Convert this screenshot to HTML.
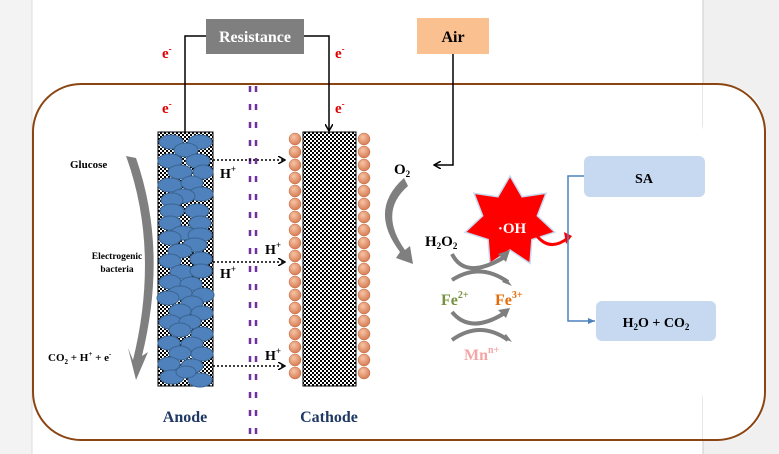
<!DOCTYPE html>
<html><head><meta charset="utf-8"><style>
html,body{margin:0;padding:0;background:#fff}
svg{display:block}
text{font-family:"Liberation Serif",serif;font-weight:bold}
</style></head><body>
<svg width="779" height="454" viewBox="0 0 779 454" xmlns="http://www.w3.org/2000/svg">
<defs>
<pattern id="chk" width="4" height="4" patternUnits="userSpaceOnUse">
<rect width="4" height="4" fill="#fff"/><rect width="2" height="2" fill="#000"/><rect x="2" y="2" width="2" height="2" fill="#000"/>
</pattern>
<radialGradient id="bead" cx="40%" cy="35%" r="60%"><stop offset="0" stop-color="#f6c4a6"/><stop offset="1" stop-color="#d9825a"/></radialGradient>
<marker id="ah" markerWidth="8" markerHeight="8" refX="7" refY="4" orient="auto" markerUnits="userSpaceOnUse"><path d="M0,0 L7,4 L0,8" fill="none" stroke="#000" stroke-width="1.5"/></marker>
<marker id="ab" markerWidth="8" markerHeight="8" refX="7" refY="4" orient="auto" markerUnits="userSpaceOnUse"><path d="M0,1 L7,4 L0,7z" fill="#4f81bd"/></marker>
</defs>
<rect x="0" y="0" width="32" height="454" fill="#f3f3f3"/>
<rect x="703" y="0" width="76" height="454" fill="#f0f0f0"/>
<line x1="32" y1="0" x2="32" y2="454" stroke="#ddd"/>
<line x1="703" y1="0" x2="703" y2="454" stroke="#ccc"/>
<rect x="33" y="84" width="670" height="356" rx="48" fill="#fff" stroke="none"/>
<path d="M703,85 L717,85 Q765,85 765,133 L765,391 Q765,439 717,439 L703,439" fill="#fff" stroke="none"/>
<rect x="33" y="84" width="732" height="356" rx="48" fill="none" stroke="#8b4513" stroke-width="2"/>

<polyline points="185,132 185,36 206,36" fill="none" stroke="#000" stroke-width="1.5"/>
<polyline points="304,36 329,36 329,131" fill="none" stroke="#000" stroke-width="1.5" marker-end="url(#ah)"/>
<rect x="206" y="19" width="98" height="35" fill="#7f7f7f"/>
<text x="255" y="42" font-size="16" fill="#fff" text-anchor="middle">Resistance</text>
<rect x="417" y="18" width="72" height="36" fill="#fac090"/>
<text x="453" y="42" font-size="16" fill="#000" text-anchor="middle">Air</text>
<polyline points="453,54 453,165 434,165" fill="none" stroke="#000" stroke-width="1.5" marker-end="url(#ah)"/>
<g fill="#e00000" font-size="15"><text x="162" y="58">e<tspan font-size="9" dy="-6">-</tspan></text>
<text x="335" y="58">e<tspan font-size="9" dy="-6">-</tspan></text>
<text x="162" y="113">e<tspan font-size="9" dy="-6">-</tspan></text>
<text x="335" y="113">e<tspan font-size="9" dy="-6">-</tspan></text></g>

<rect x="158" y="132" width="55" height="254" fill="url(#chk)" stroke="#000"/>
<g fill="#4f81bd" stroke="#3a6591" stroke-width="1">
<ellipse cx="171" cy="142" rx="12" ry="7"/><ellipse cx="200" cy="142" rx="12" ry="7"/><ellipse cx="186" cy="150" rx="12" ry="7"/>
<ellipse cx="170" cy="161" rx="12" ry="7"/><ellipse cx="198" cy="161" rx="12" ry="7"/><ellipse cx="180" cy="172" rx="12" ry="7"/><ellipse cx="203" cy="172" rx="10" ry="7"/>
<ellipse cx="170" cy="185" rx="12" ry="7"/><ellipse cx="192" cy="183" rx="11" ry="7"/><ellipse cx="201" cy="194" rx="12" ry="7"/><ellipse cx="183" cy="196" rx="12" ry="7"/><ellipse cx="172" cy="200" rx="11" ry="7"/>
<ellipse cx="172" cy="211" rx="12" ry="7"/><ellipse cx="197" cy="211" rx="12" ry="7"/><ellipse cx="170" cy="223" rx="11" ry="7"/><ellipse cx="200" cy="223" rx="11" ry="7"/>
<ellipse cx="183" cy="233" rx="12" ry="7"/><ellipse cx="170" cy="238" rx="11" ry="7"/><ellipse cx="200" cy="235" rx="12" ry="7"/><ellipse cx="195" cy="245" rx="12" ry="7"/><ellipse cx="180" cy="251" rx="12" ry="7"/>
<ellipse cx="170" cy="261" rx="11" ry="7"/><ellipse cx="201" cy="259" rx="11" ry="7"/><ellipse cx="182" cy="272" rx="12" ry="7"/><ellipse cx="201" cy="271" rx="11" ry="7"/>
<ellipse cx="170" cy="282" rx="11" ry="7"/><ellipse cx="191" cy="284" rx="11" ry="7"/><ellipse cx="180" cy="293" rx="12" ry="7"/><ellipse cx="203" cy="295" rx="11" ry="7"/><ellipse cx="168" cy="298" rx="11" ry="7"/>
<ellipse cx="192" cy="303" rx="11" ry="7"/><ellipse cx="180" cy="311" rx="11" ry="7"/><ellipse cx="202" cy="313" rx="11" ry="7"/>
<ellipse cx="170" cy="322" rx="11" ry="7"/><ellipse cx="190" cy="322" rx="11" ry="7"/><ellipse cx="180" cy="330" rx="11" ry="7"/><ellipse cx="202" cy="334" rx="11" ry="7"/>
<ellipse cx="169" cy="343" rx="11" ry="7"/><ellipse cx="192" cy="344" rx="11" ry="7"/><ellipse cx="180" cy="353" rx="11" ry="7"/><ellipse cx="202" cy="354" rx="11" ry="7"/>
<ellipse cx="169" cy="364" rx="11" ry="7"/><ellipse cx="192" cy="366" rx="11" ry="7"/><ellipse cx="172" cy="377" rx="12" ry="7"/><ellipse cx="200" cy="380" rx="12" ry="7"/><ellipse cx="186" cy="372" rx="10" ry="6"/>
</g>

<g stroke="#7030a0" stroke-width="2.5" stroke-dasharray="6,12">
<line x1="250" y1="86" x2="250" y2="440"/><line x1="256" y1="86" x2="256" y2="440"/>
</g>

<rect x="303" y="132" width="53" height="254" fill="url(#chk)" stroke="#000"/>
<g fill="url(#bead)" stroke="#c46a40" stroke-width="0.5">
<circle cx="295" cy="139" r="6"/><circle cx="295" cy="152" r="6"/><circle cx="295" cy="165" r="6"/><circle cx="295" cy="178" r="6"/><circle cx="295" cy="191" r="6"/><circle cx="295" cy="204" r="6"/><circle cx="295" cy="217" r="6"/><circle cx="295" cy="230" r="6"/><circle cx="295" cy="243" r="6"/><circle cx="295" cy="256" r="6"/><circle cx="295" cy="269" r="6"/><circle cx="295" cy="282" r="6"/><circle cx="295" cy="295" r="6"/><circle cx="295" cy="308" r="6"/><circle cx="295" cy="321" r="6"/><circle cx="295" cy="334" r="6"/><circle cx="295" cy="347" r="6"/><circle cx="295" cy="360" r="6"/><circle cx="295" cy="373" r="6"/>
<circle cx="364" cy="139" r="6"/><circle cx="364" cy="152" r="6"/><circle cx="364" cy="165" r="6"/><circle cx="364" cy="178" r="6"/><circle cx="364" cy="191" r="6"/><circle cx="364" cy="204" r="6"/><circle cx="364" cy="217" r="6"/><circle cx="364" cy="230" r="6"/><circle cx="364" cy="243" r="6"/><circle cx="364" cy="256" r="6"/><circle cx="364" cy="269" r="6"/><circle cx="364" cy="282" r="6"/><circle cx="364" cy="295" r="6"/><circle cx="364" cy="308" r="6"/><circle cx="364" cy="321" r="6"/><circle cx="364" cy="334" r="6"/><circle cx="364" cy="347" r="6"/><circle cx="364" cy="360" r="6"/><circle cx="364" cy="373" r="6"/>
</g>

<g stroke="#000" stroke-width="1.5" stroke-dasharray="2,2" fill="none">
<line x1="213" y1="160" x2="285" y2="160" marker-end="url(#ah)"/>
<line x1="213" y1="262" x2="285" y2="262" marker-end="url(#ah)"/>
<line x1="213" y1="366" x2="285" y2="366" marker-end="url(#ah)"/>
</g>
<g font-size="14" fill="#000">
<text x="220" y="178">H<tspan font-size="9" dy="-6">+</tspan></text>
<text x="265" y="254">H<tspan font-size="9" dy="-6">+</tspan></text>
<text x="220" y="278">H<tspan font-size="9" dy="-6">+</tspan></text>
<text x="265" y="360">H<tspan font-size="9" dy="-6">+</tspan></text>
</g>

<path d="M126,156 Q160,250 133,360 L128,348 L136,380 L148,352 L142,356 Q168,250 136,158 Z" fill="#7f7f7f"/>
<text x="70" y="168" font-size="11" fill="#000">Glucose</text>
<text x="117" y="259" font-size="9.5" text-anchor="middle">Electrogenic</text>
<text x="117" y="272" font-size="9.5" text-anchor="middle">bacteria</text>
<text x="48" y="361" font-size="11">CO<tspan font-size="7" dy="3">2</tspan><tspan dy="-3"> + H</tspan><tspan font-size="7" dy="-5">+</tspan><tspan dy="5"> + e</tspan><tspan font-size="7" dy="-5">-</tspan></text>

<text x="185" y="422" font-size="16" fill="#1f3864" text-anchor="middle">Anode</text>
<text x="329" y="422" font-size="16" fill="#1f3864" text-anchor="middle">Cathode</text>

<text x="394" y="174" font-size="15">O<tspan font-size="9" dy="3">2</tspan></text>
<path d="M404,178 Q368,210 400,252 L396,258 L413,264 L410,246 L405,250 Q378,212 408,186 Z" fill="#7f7f7f"/>
<text x="425" y="246" font-size="15">H<tspan font-size="9" dy="3">2</tspan><tspan dy="-3">O</tspan><tspan font-size="9" dy="3">2</tspan></text>
<polygon points="510,176 522.1,196.8 546,193.3 537.3,215.8 554.8,232.2 531.9,239.5 530,263.4 510,250 490,263.4 488.1,239.5 465.2,232.2 482.7,215.8 474,193.3 497.9,196.8" fill="#ff0000" stroke="#c6d9f0" stroke-width="1.5"/>
<text x="512" y="233" font-size="15" fill="#fff" text-anchor="middle">·OH</text>
<path d="M537,236 Q550,252 568,238" fill="none" stroke="#ff0000" stroke-width="3"/>
<path d="M564,232 L572,236 L566,244 Z" fill="#ff0000"/>
<g fill="none" stroke="#7f7f7f" stroke-width="4">
<path d="M452,254 Q465,280 503,258"/><path d="M452,280 Q480,262 508,282"/>
<path d="M452,312 Q470,334 503,314"/><path d="M452,340 Q480,320 508,340"/>
</g>
<g fill="#7f7f7f"><path d="M498,254 L510,250 L506,262Z"/><path d="M502,282 L512,286 L506,278Z"/><path d="M498,310 L510,308 L506,318Z"/><path d="M502,338 L512,342 L506,334Z"/></g>
<text x="441" y="305" font-size="16" fill="#76923c">Fe<tspan font-size="10" dy="-7">2+</tspan></text>
<text x="495" y="305" font-size="16" fill="#e36c09">Fe<tspan font-size="10" dy="-7">3+</tspan></text>
<text x="464" y="360" font-size="16" fill="#f4a6a6">Mn<tspan font-size="10" dy="-7">n+</tspan></text>

<polyline points="584,176 568,176 568,321 595,321" fill="none" stroke="#4f81bd" stroke-width="1.5" marker-end="url(#ab)"/>
<rect x="584" y="156" width="121" height="41" rx="6" fill="#c6d9f0"/>
<text x="644" y="183" font-size="14" text-anchor="middle">SA</text>
<rect x="596" y="301" width="120" height="40" rx="6" fill="#c6d9f0"/>
<text x="656" y="327" font-size="14" text-anchor="middle">H<tspan font-size="9" dy="3">2</tspan><tspan dy="-3">O + CO</tspan><tspan font-size="9" dy="3">2</tspan></text>
</svg>
</body></html>
